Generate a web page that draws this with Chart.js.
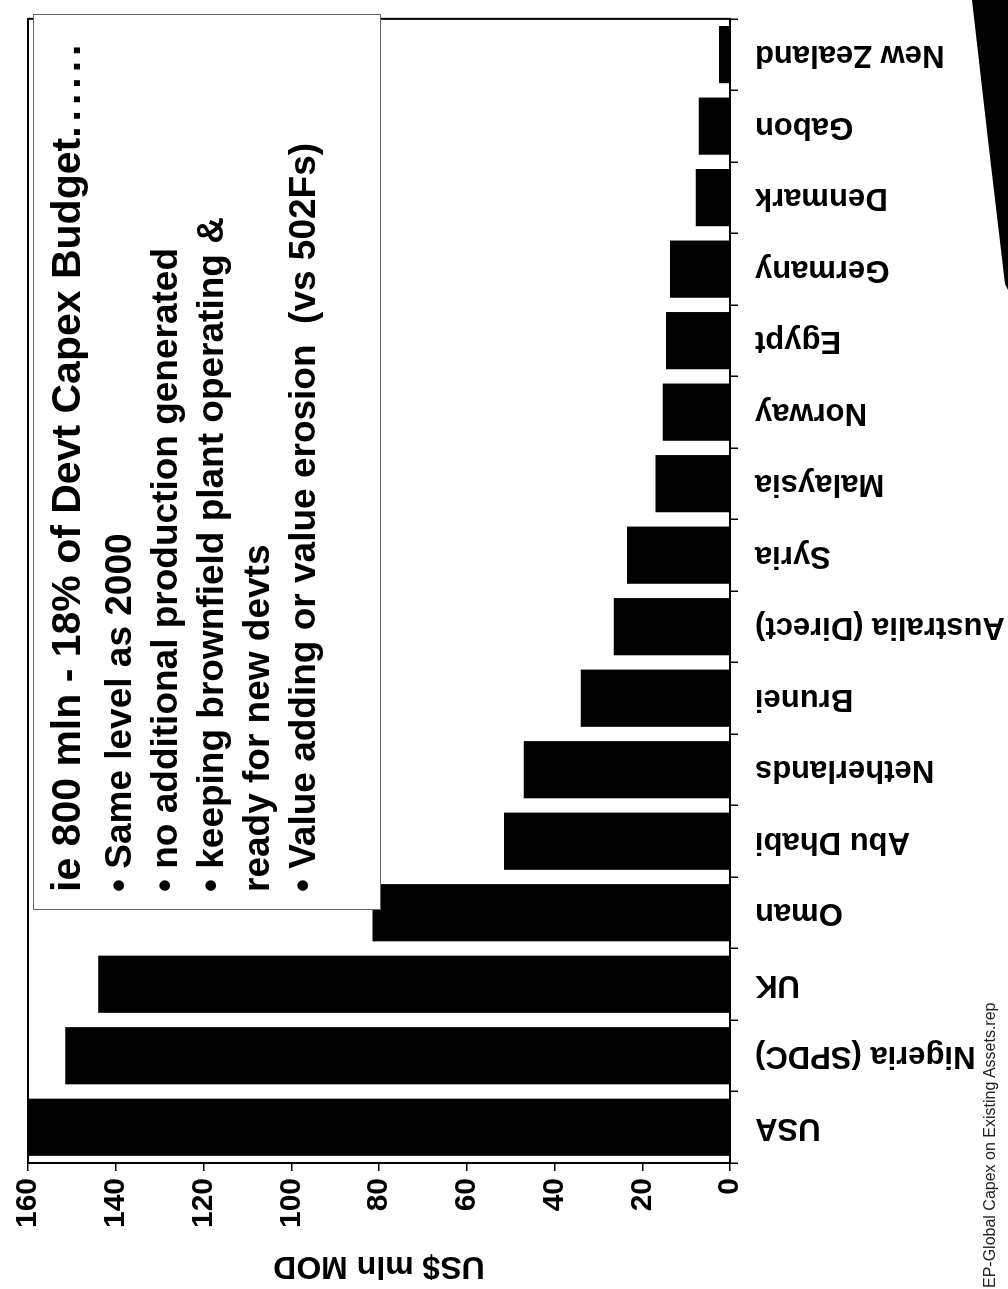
<!DOCTYPE html>
<html>
<head>
<meta charset="utf-8">
<title>Capex on existing assets by country</title>
<script src="https://cdn.jsdelivr.net/npm/chart.js@4.4.1/dist/chart.umd.min.js"></script>
<style>
  html, body { margin: 0; padding: 0; background: #fff; overflow: hidden; }
  body { width: 1008px; height: 1289px; position: relative; }
  /* The slide is laid out landscape and turned a quarter-turn onto the portrait page */
  #page {
    position: absolute; left: 0; top: 0;
    width: 1289px; height: 1008px;
    transform-origin: 0 0;
    transform: translate(0, 1289px) rotate(-90deg);
    background: #fff;
  }
  #chart { position: absolute; left: 0; top: 0; }
  #note {
    position: absolute; left: 379px; top: 33px;
    width: 896px; height: 348px; box-sizing: border-box;
    border: 1px solid #666; background: #fff;
    font-family: 'Liberation Sans', Arial, sans-serif; font-weight: bold; color: #000;
  }
  #note div { position: absolute; left: 17px; white-space: pre; line-height: 1; }
  #note .head { font-size: 41px; top: 12px; }
  #note .head .dots { letter-spacing: 5px; }
  #note .item { font-size: 37px; }
  #footer {
    position: absolute; left: 1px; top: 982px;
    font-family: 'Liberation Sans', Arial, sans-serif; font-size: 16px; line-height: 1;
    color: #222; white-space: pre;
  }
  #edge {
    position: absolute; left: 950px; top: 0; width: 58px; height: 290px; background: #000;
    clip-path: polygon(22px 0, 58px 0, 58px 290px, 55px 284px, 38px 140px);
  }
</style>
</head>
<body>
<div id="page">
  <canvas id="chart" width="1289" height="1008"></canvas>
  <div id="note">
    <div class="head">ie 800 mln - 18% of Devt Capex Budget<span class="dots">......</span></div>
    <div class="item" style="top:66px">• Same level as 2000</div>
    <div class="item" style="top:112px">• no additional production generated</div>
    <div class="item" style="top:158px">• keeping brownfield plant operating &amp;</div>
    <div class="item" style="top:204px">ready for new devts</div>
    <div class="item" style="top:250px">• Value adding or value erosion  (vs 502Fs)</div>
  </div>
  <div id="footer">EP-Global Capex on Existing Assets.rep</div>
</div>
<div id="edge"></div>
<script>
// Development capex spent on existing assets, US$ mln (money of the day)
const categories = ['USA', 'Nigeria (SPDC)', 'UK', 'Oman', 'Abu Dhabi', 'Netherlands', 'Brunei',
  'Australia (Direct)', 'Syria', 'Malaysia', 'Norway', 'Egypt', 'Germany', 'Denmark', 'Gabon', 'New Zealand'];
const capexValues = [160, 151.5, 144, 81.5, 51.5, 47, 34, 26.5, 23.5, 17, 15.3, 14.6, 13.7, 7.8, 7.1, 2.5];
const valueTicks = [0, 20, 40, 60, 80, 100, 120, 140, 160];
const valueAxisTitle = 'US$ mln MOD';

const FONT = "'Liberation Sans', Arial, sans-serif";

// Closed frame around the plot area
const framePlugin = {
  id: 'plotFrame',
  afterDraw(chart) {
    const { ctx, chartArea: a } = chart;
    ctx.save();
    ctx.strokeStyle = '#000';
    ctx.lineWidth = 2;
    ctx.strokeRect(a.left, a.top, a.right - a.left, a.bottom - a.top);
    ctx.restore();
  }
};

new Chart(document.getElementById('chart'), {
  type: 'bar',
  data: {
    labels: categories,
    datasets: [{
      data: capexValues,
      backgroundColor: '#000',
      borderWidth: 0,
      barPercentage: 0.8,
      categoryPercentage: 1
    }]
  },
  options: {
    responsive: false,
    animation: false,
    devicePixelRatio: 1,
    layout: { padding: { top: 28, right: 13, left: 0, bottom: 0 } },
    plugins: { legend: { display: false }, tooltip: { enabled: false } },
    scales: {
      x: {
        grid: { drawOnChartArea: false, offset: true, tickLength: 8, color: '#000', lineWidth: 1.5 },
        border: { color: '#000', width: 2 },
        ticks: {
          minRotation: 90, maxRotation: 90, autoSkip: false, padding: 17, color: '#000',
          font: { family: FONT, size: 31, weight: 'bold' }
        },
        afterFit(scale) { scale.height = 278; }
      },
      y: {
        min: 0, max: 160,
        afterBuildTicks(scale) { scale.ticks = valueTicks.map(v => ({ value: v })); },
        grid: { drawOnChartArea: false, tickLength: 8, color: '#000', lineWidth: 1.5 },
        border: { color: '#000', width: 2 },
        ticks: { padding: 7, color: '#000', font: { family: FONT, size: 30, weight: 'bold' } },
        title: {
          display: true, text: valueAxisTitle, color: '#000',
          font: { family: FONT, size: 32, weight: 'bold' }, padding: { top: 4, bottom: 0 }
        },
        afterFit(scale) { scale.width = 126; }
      }
    }
  },
  plugins: [framePlugin]
});
</script>
</body>
</html>
